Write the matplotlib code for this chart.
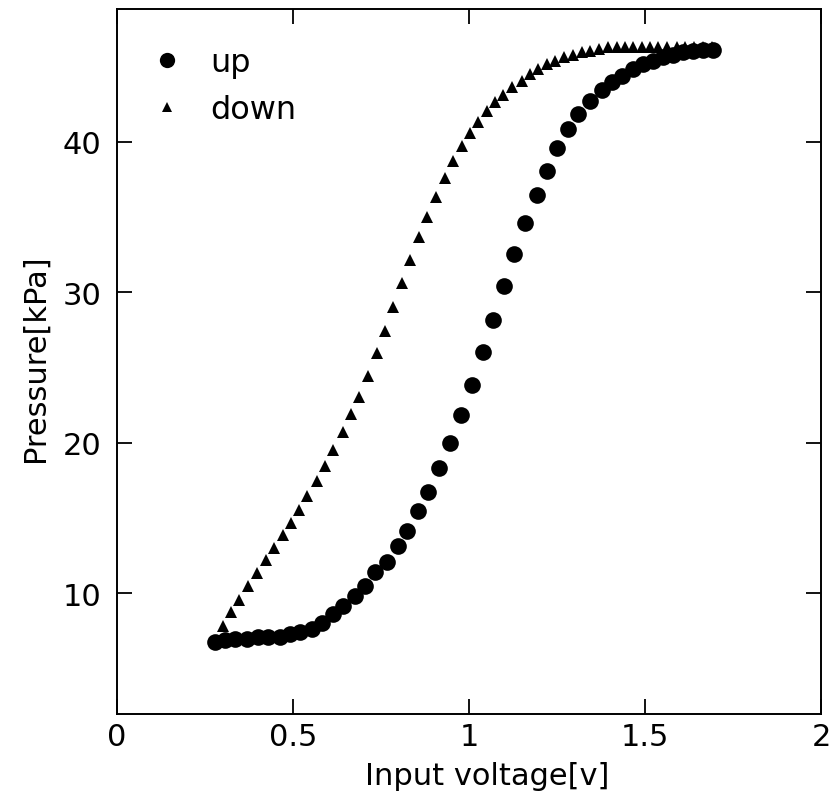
import matplotlib
matplotlib.use("Agg")
import matplotlib.pyplot as plt
from matplotlib.lines import Line2D

# "up" sweep (circles)
up_voltage = [0.278, 0.307, 0.335, 0.369, 0.401, 0.429, 0.463, 0.491, 0.520, 0.554,
              0.582, 0.614, 0.642, 0.676, 0.705, 0.733, 0.767, 0.798, 0.824, 0.855,
              0.884, 0.915, 0.946, 0.977, 1.009, 1.040, 1.068, 1.099, 1.128, 1.159,
              1.193, 1.222, 1.250, 1.281, 1.310, 1.344, 1.378, 1.406, 1.435, 1.466,
              1.494, 1.523, 1.551, 1.580, 1.608, 1.636, 1.665, 1.693]
up_pressure = [6.81, 6.88, 7.01, 7.01, 7.08, 7.08, 7.14, 7.28, 7.41, 7.67,
               8.07, 8.67, 9.14, 9.80, 10.47, 11.40, 12.06, 13.12, 14.12, 15.45,
               16.71, 18.31, 19.97, 21.83, 23.82, 26.01, 28.14, 30.40, 32.52, 34.58,
               36.44, 38.04, 39.57, 40.83, 41.83, 42.69, 43.42, 43.95, 44.35, 44.82,
               45.15, 45.35, 45.61, 45.75, 45.95, 46.01, 46.08, 46.08]

# "down" sweep (triangles)
down_voltage = [0.301, 0.324, 0.347, 0.372, 0.398, 0.423, 0.446, 0.472, 0.494, 0.517,
                0.540, 0.568, 0.591, 0.614, 0.642, 0.665, 0.688, 0.713, 0.739, 0.761,
                0.784, 0.810, 0.832, 0.858, 0.881, 0.906, 0.932, 0.955, 0.980, 1.003,
                1.026, 1.051, 1.074, 1.097, 1.122, 1.151, 1.173, 1.196, 1.222, 1.244,
                1.270, 1.295, 1.321, 1.344, 1.369, 1.395, 1.420, 1.443, 1.466, 1.491,
                1.514, 1.537, 1.563, 1.591, 1.614, 1.639, 1.665, 1.690]
down_pressure = [7.81, 8.74, 9.60, 10.47, 11.33, 12.19, 12.99, 13.85, 14.65, 15.51,
                 16.45, 17.44, 18.44, 19.50, 20.70, 21.89, 23.02, 24.42, 25.95, 27.41,
                 29.00, 30.60, 32.13, 33.65, 34.98, 36.31, 37.57, 38.70, 39.70, 40.56,
                 41.30, 42.03, 42.62, 43.09, 43.62, 44.02, 44.49, 44.82, 45.15, 45.35,
                 45.61, 45.75, 45.95, 46.01, 46.15, 46.28, 46.30, 46.30, 46.30, 46.30,
                 46.30, 46.30, 46.30, 46.30, 46.30, 46.30, 46.30, 46.30]

x_ticks = [0, 0.5, 1, 1.5, 2]
x_ticklabels = ["0", "0.5", "1", "1.5", "2"]
y_ticks = [10, 20, 30, 40]
y_ticklabels = ["10", "20", "30", "40"]

plt.rcParams['font.family'] = ['DejaVu Sans']
FS = 22

fig = plt.figure(figsize=(8.37, 8.04), dpi=100)
ax = fig.add_axes([0.1398, 0.1107, 0.8412, 0.8769])

ax.plot(up_voltage, up_pressure, linestyle='none', marker='o', markersize=12,
        color='black', markeredgewidth=0)
ax.plot(down_voltage, down_pressure, linestyle='none', marker='^', markersize=9.0,
        color='black', markeredgewidth=0)

ax.set_xlim(0, 2)
ax.set_ylim(2, 48.8)
ax.set_xticks(x_ticks)
ax.set_xticklabels(x_ticklabels)
ax.set_yticks(y_ticks)
ax.set_yticklabels(y_ticklabels)

for s in ax.spines.values():
    s.set_linewidth(1.4)
ax.tick_params(axis='both', which='major', direction='in', length=11, width=1.3,
               top=True, right=True, labelsize=FS, colors='black')
ax.tick_params(axis='x', pad=6)
ax.tick_params(axis='y', pad=11)

ax.set_xlabel("Input voltage[v]", fontsize=FS)
ax.set_ylabel("Pressure[kPa]", fontsize=FS)
ax.xaxis.set_label_coords(0.526, -0.066)
ax.yaxis.set_label_coords(-0.095, 0.506)

handles = [Line2D([], [], linestyle='none', marker='o', markersize=11, color='black',
                  markeredgewidth=0),
           Line2D([], [], linestyle='none', marker='^', markersize=7, color='black',
                  markeredgewidth=0)]
ax.legend(handles, ["up", "down"], loc='upper left', bbox_to_anchor=(0.048, 0.946),
          frameon=False, fontsize=FS + 1, borderpad=0, borderaxespad=0,
          handlelength=1.0, handletextpad=0.87, labelspacing=0.5)

fig.savefig("out.png", dpi=100)
